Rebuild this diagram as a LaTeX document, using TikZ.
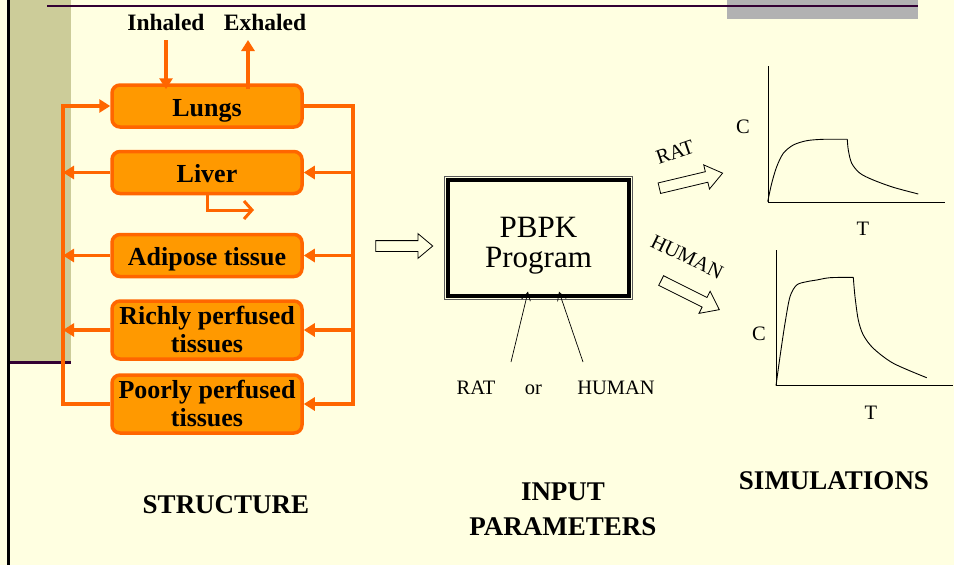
\documentclass[tikz,border=0pt]{standalone}
\usepackage{fontspec}
\setmainfont{Liberation Serif}
\newfontfamily\timesf{Liberation Serif}
\usetikzlibrary{arrows.meta,shapes.arrows,calc}
\definecolor{bg}{RGB}{255,255,225}
\definecolor{khaki}{RGB}{204,204,153}
\definecolor{plum}{RGB}{51,0,51}
\definecolor{ofill}{RGB}{255,153,0}
\definecolor{oedge}{RGB}{255,102,0}
\definecolor{gbar}{RGB}{178,178,178}
\begin{document}
\begin{tikzpicture}[x=1pt,y=-1pt,
  organ/.style={draw=oedge, fill=ofill, line width=3.5pt, rounded corners=8pt,
    minimum width=190pt, inner sep=0pt, align=center,
    font=\fontsize{26}{28}\selectfont\bfseries},
  oneline/.style={organ, minimum height=42pt, text height=25pt, text depth=5pt},
  twoline/.style={organ, minimum height=58pt},
  flow/.style={draw=oedge, line width=3.5pt},
  otip/.style={-{Triangle[length=11pt,width=13pt]}},
  lab/.style={font=\fontsize{23.5}{24}\selectfont\bfseries, inner sep=0pt},
  big/.style={font=\fontsize{27}{35}\selectfont\bfseries, inner sep=0pt, align=center},
  small/.style={font=\fontsize{20.5}{22}\selectfont, inner sep=0pt},
  barrow/.style={single arrow, draw=black, fill=bg, line width=0.8pt,
    inner xsep=0pt, inner ysep=5pt, single arrow head extend=7pt},
  thinarrow/.style={draw=black, line width=0.7pt, -{Straight Barb[length=8pt,width=9pt]}},
  curve/.style={draw=black, line width=0.9pt}
]
\useasboundingbox (0,0) rectangle (954,565);
% background
\fill[bg] (0,0) rectangle (954,565);
\fill[khaki] (9,0) rectangle (71,362);
\draw[plum, line width=3pt] (8,362) -- (71,362);
\fill[black] (7,0) rectangle (10,565);
\fill[gbar] (727,0) rectangle (918,19);
\draw[plum, line width=2.5pt] (47,6) -- (918,6);

% organ boxes
\node[oneline] (lungs) at (207,106) {Lungs};
\node[oneline] (liver) at (207,172.5) {Liver};
\node[oneline] (adipose) at (207,255.5) {Adipose tissue};
\node[twoline] (richly) at (207,330) {Richly perfused\\tissues};
\node[twoline] (poorly) at (207,404) {Poorly perfused\\tissues};

\coordinate (L) at (63,0);
\coordinate (R) at (353,0);

% venous side (left)
\draw[flow, otip] (poorly.west) -- (poorly.west -| L) |- (lungs.west);
\foreach \n in {liver,adipose,richly}
  \draw[flow, otip] (\n.west) -- (\n.west -| L);
% arterial side (right)
\draw[flow, otip] (lungs.east) -- (lungs.east -| R) -- (poorly.east -| R) -- (poorly.east);
\foreach \n in {liver,adipose,richly}
  \draw[flow, otip] (\n.east -| R) -- (\n.east);

% inhaled / exhaled
\node[lab] (inh) at (166,22) {Inhaled};
\node[lab] (exh) at (265,22) {Exhaled};
\coordinate (i0) at (166,40);
\coordinate (e0) at (248,40);
\draw[flow, otip] (i0) -- ($(i0 |- lungs.north)+(0,6)$);
\draw[flow, otip] ($(e0 |- lungs.north)+(0,6)$) -- (e0);

% liver output
\coordinate (lo) at (254,210);
\draw[flow, line width=3pt, -{Straight Barb[length=8pt,width=18pt]}] (liver.south) |- (lo);

% arrow to program
\node[barrow, single arrow tip angle=80, minimum height=57pt] (a1) at (401,246) {};

% PBPK program box
\node[draw=black, line width=3.3pt, minimum width=181pt, minimum height=116pt, inner sep=0pt] (pbpk) at (538.5,238) {};
\draw[black!65, line width=1pt] ([shift={(-2pt,2pt)}]pbpk.north west) rectangle ([shift={(2pt,-2pt)}]pbpk.south east);
\node[font=\timesf\fontsize{31}{30}\selectfont, align=center, inner sep=0pt] (pbpktext) at (538.5,246) {PBPK\\Program};

% inputs
\coordinate (rb) at (511,362);
\coordinate (hb) at (583,362);
\draw[thinarrow] (rb) -- ([shift={(-10.5pt,6pt)}]pbpk.south);
\draw[thinarrow] (hb) -- ([shift={(20.5pt,6pt)}]pbpk.south);
\node[small, anchor=base] (ratin) at (476,394) {RAT};
\node[small, anchor=base] (orin) at (533.5,394) {or};
\node[small, anchor=base] (humin) at (616,394) {HUMAN};

% arrows to simulations
\node[barrow, single arrow tip angle=74, minimum height=65pt, rotate=13.4] (a2) at (687.5,181.5) {};
\node[barrow, single arrow tip angle=74, minimum height=65pt, rotate=-26.6] (a3) at (687,293.5) {};
\node[small, rotate=19] (ratl) at (675,152) {RAT};
\node[small, rotate=-26] (huml) at (687,257) {HUMAN};

% graph 1
\draw[curve] (768,66) -- (768,202) -- (945,202);
\draw[curve] plot[smooth] coordinates {(767.7,201.7) (771.7,183.3) (776.7,166.7) (783.3,153.3) (793.3,145) (806.7,140.7) (823.3,139.3) (847.3,139.3)};
\draw[curve] plot[smooth] coordinates {(847.3,139.3) (848.3,150) (851.7,163.3) (860,173.3) (873.3,180) (893.3,187.3) (918.3,194)};
\node[small] (c1) at (743,127) {C};
\node[small] (t1) at (863,229) {T};

% graph 2
\draw[curve] (776,250) -- (776,385.7) -- (953.3,385.7);
\draw[curve] plot[smooth] coordinates {(776,385.7) (780,356.7) (785,323.3) (790,296.7) (796.7,285) (806.7,281.7) (816.7,280) (830,277.7) (853.3,277.3)};
\draw[curve] plot[smooth] coordinates {(853.3,277.3) (855,296.7) (858.3,320) (863.3,335) (873.3,348.3) (893.3,363.3) (926.7,377.7)};
\node[small] (c2) at (759,334) {C};
\node[small] (t2) at (871,413) {T};

% captions
\node[big] (structure) at (226,505) {STRUCTURE};
\node[big] (input) at (563,509.5) {INPUT\\PARAMETERS};
\node[big] (sim) at (834,481) {SIMULATIONS};
\end{tikzpicture}
\end{document}
